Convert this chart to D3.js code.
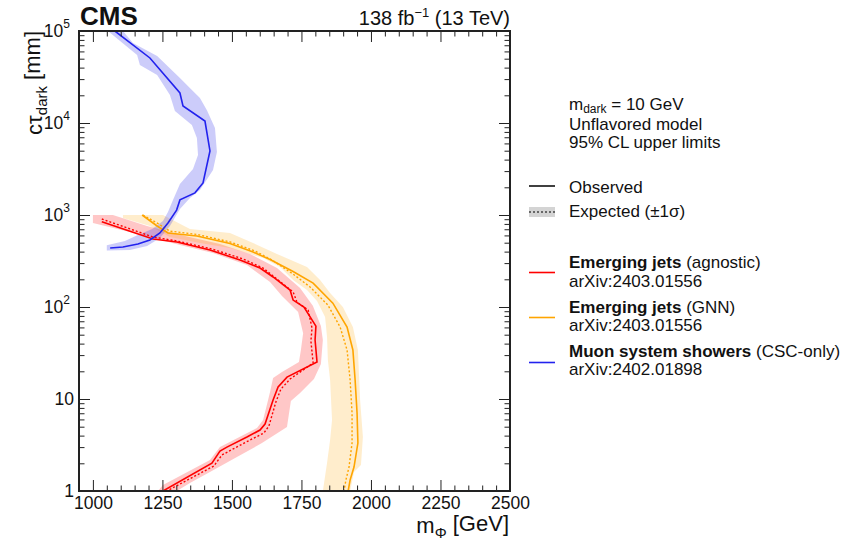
<!DOCTYPE html>
<html><head><meta charset="utf-8">
<script src="https://cdn.jsdelivr.net/npm/d3@7"></script>
<style>
body{margin:0;background:#fff;}
svg{display:block;font-family:"Liberation Sans",Arial,Helvetica,sans-serif;}
</style></head><body>
<svg id="chart" width="866" height="540"></svg>
<script>
// Limit contours in the (m_Phi [GeV], c tau_dark [mm]) plane: [mass, ctau]
const ejAgnosticObs = [[1032,846],[1216,548],[1302,509],[1421,417],[1529,324],[1601,265],[1648,212],[1709,153],[1720,119],[1759,100],[1802,62],[1799,43.8],[1806,25.3],[1698,17.3],[1666,13.5],[1648,9.76],[1619,5.35],[1601,4.6],[1554,3.86],[1482,3.0],[1457,2.72],[1428,2.01],[1252,1]];
const ejAgnosticExp = [[1032,905],[1216,577],[1302,522],[1428,427],[1540,333],[1612,265],[1662,201],[1720,146],[1734,113],[1774,92.8],[1788,59],[1784,42.7],[1792,24.6],[1709,16.5],[1676,12.8],[1658,9.28],[1633,5.09],[1615,4.27],[1565,3.58],[1497,2.79],[1464,2.46],[1435,1.87],[1266,1]];
const ejAgnosticBandHi = [[1000,1000],[1072,1000],[1195,759],[1331,591],[1457,484],[1565,377],[1662,265],[1745,161],[1791,103],[1820,62],[1827,43.8],[1820,24],[1795,16.5],[1745,11.6],[1712,9.5],[1698,4.96],[1608,3.32],[1518,2.34],[1421,1.61],[1349,1.22],[1302,1],[1259,0.84]];
const ejAgnosticBandLo = [[1000,819],[1133,653],[1313,472],[1432,386],[1554,286],[1637,187],[1680,132],[1738,88],[1756,52],[1748,34],[1741,25.3],[1680,19.7],[1648,16.9],[1637,11.9],[1630,9.76],[1612,5.9],[1590,4.84],[1457,3.0],[1421,2.17],[1252,1.16],[1234,1],[1198,0.88]];

const ejGnnObs = [[1177,1000],[1231,759],[1270,637],[1374,591],[1493,490],[1576,396],[1637,328],[1720,243],[1792,182],[1863,110],[1914,60.6],[1935,34.1],[1943,16.1],[1950,7.04],[1953,3.32],[1939,1.82],[1925,1.32],[1918,1]];
const ejGnnExp = [[1180,1000],[1236,800],[1277,668],[1374,615],[1493,510],[1583,406],[1644,324],[1720,228],[1781,165],[1845,105],[1889,60.6],[1914,34.1],[1925,16.1],[1932,7.04],[1932,3.32],[1921,1.82],[1910,1.32],[1903,1]];
const ejGnnBandHi = [[1108,1000],[1252,1000],[1349,704],[1493,637],[1576,496],[1662,377],[1770,272],[1817,196],[1853,142],[1899,100],[1935,60.6],[1953,34.1],[1961,9.76],[1971,3.86],[1964,1.92],[1939,1.61],[1925,1],[1917,0.84]];
const ejGnnBandLo = [[1108,927],[1205,759],[1277,577],[1385,496],[1493,438],[1612,341],[1673,272],[1720,196],[1770,153],[1806,116],[1835,77.9],[1842,47.2],[1845,26.5],[1853,16.1],[1860,5.91],[1853,3.58],[1842,2.01],[1827,1],[1824,0.84]];

const mssObs = [[1062,438],[1108,449],[1162,484],[1205,535],[1241,637],[1270,819],[1301,1130],[1313,1460],[1367,1740],[1396,2230],[1421,4970],[1403,10500],[1324,15300],[1313,21200],[1205,50900],[1079,100000]];
const mssBandHi = [[1050,410],[1133,417],[1195,460],[1241,562],[1277,759],[1313,1160],[1349,1530],[1385,1870],[1432,3080],[1446,4840],[1439,8830],[1410,13800],[1385,18700],[1338,25900],[1313,30800],[1231,53500],[1144,74100],[1108,100000],[1090,113000]];
const mssBandLo = [[1050,470],[1115,522],[1162,606],[1213,704],[1252,861],[1270,1080],[1288,1460],[1313,2170],[1360,3160],[1378,4490],[1374,6870],[1356,9510],[1295,13500],[1277,20200],[1231,33300],[1169,42700],[1159,54800],[1054,100000],[1040,113000]];

// Axis ticks
const xMajorTicks = [1000,1250,1500,1750,2000,2250,2500];
const yMajorTicks = [1,10,100,1000,10000,100000];
const yTickLabels = [["1",""],["10",""],["10","2"],["10","3"],["10","4"],["10","5"]];

const svg = d3.select("#chart");
const plot = {left:79, right:510, top:31, bottom:491};
const x = d3.scaleLinear().domain([950,2500]).range([plot.left, plot.right]);
const y = d3.scaleLog().domain([1,1e5]).range([plot.bottom, plot.top]);

svg.append("defs").append("clipPath").attr("id","plotclip")
  .append("rect").attr("x",plot.left).attr("y",plot.top)
  .attr("width",plot.right-plot.left).attr("height",plot.bottom-plot.top);

const series = [
  {obs:ejAgnosticObs, exp:ejAgnosticExp, hi:ejAgnosticBandHi, lo:ejAgnosticBandLo, line:"#ff0000", band:"rgba(255,0,0,0.22)"},
  {obs:ejGnnObs, exp:ejGnnExp, hi:ejGnnBandHi, lo:ejGnnBandLo, line:"#ffa500", band:"rgba(255,165,0,0.2)"},
  {obs:mssObs, exp:null, hi:mssBandHi, lo:mssBandLo, line:"#2222ee", band:"rgba(40,40,235,0.24)"}
];

const line = d3.line().x(d=>x(d[0])).y(d=>y(d[1]));
const g = svg.append("g").attr("clip-path","url(#plotclip)");

// ±1σ bands: upper edge followed by the reversed lower edge
series.forEach(s=>{
  const poly = s.hi.concat(s.lo.slice().reverse());
  g.append("path").attr("d", line(poly)+"Z").attr("fill", s.band).attr("stroke","none");
});
series.forEach(s=>{
  if (s.exp) g.append("path").attr("d", line(s.exp)).attr("fill","none")
      .attr("stroke", s.line).attr("stroke-width",1.4).attr("stroke-dasharray","2,2");
  g.append("path").attr("d", line(s.obs)).attr("fill","none")
      .attr("stroke", s.line).attr("stroke-width",1.6);
});

// Axes: ticks pointing inward on all four sides
const xMinor = d3.range(1000,2500,50).filter(v=>v%250!==0);
const yMinor = [];
for (let e=0;e<5;e++) for (let k=2;k<10;k++) yMinor.push(k*Math.pow(10,e));

function styleAxis(sel){
  sel.select(".domain").remove();
  sel.selectAll(".tick line").attr("stroke","#222").attr("stroke-width",1);
}
const bottomG = svg.append("g").attr("transform",`translate(0,${plot.bottom})`)
  .call(d3.axisBottom(x).tickValues(xMajorTicks).tickSize(-11).tickPadding(6).tickFormat(d3.format("d")));
styleAxis(bottomG);
bottomG.selectAll("text").attr("font-size",17.5).attr("fill","#111").attr("font-family","Liberation Sans, Arial, sans-serif");
svg.append("g").attr("transform",`translate(0,${plot.bottom})`)
  .call(d3.axisBottom(x).tickValues(xMinor).tickSize(-5.5).tickFormat("")).call(styleAxis);
svg.append("g").attr("transform",`translate(0,${plot.top})`)
  .call(d3.axisTop(x).tickValues(xMajorTicks).tickSize(-11).tickFormat("")).call(styleAxis);
svg.append("g").attr("transform",`translate(0,${plot.top})`)
  .call(d3.axisTop(x).tickValues(xMinor).tickSize(-5.5).tickFormat("")).call(styleAxis);
svg.append("g").attr("transform",`translate(${plot.left},0)`)
  .call(d3.axisLeft(y).tickValues(yMajorTicks).tickSize(-11).tickFormat("")).call(styleAxis);
svg.append("g").attr("transform",`translate(${plot.left},0)`)
  .call(d3.axisLeft(y).tickValues(yMinor).tickSize(-5.5).tickFormat("")).call(styleAxis);
svg.append("g").attr("transform",`translate(${plot.right},0)`)
  .call(d3.axisRight(y).tickValues(yMajorTicks).tickSize(-11).tickFormat("")).call(styleAxis);
svg.append("g").attr("transform",`translate(${plot.right},0)`)
  .call(d3.axisRight(y).tickValues(yMinor).tickSize(-5.5).tickFormat("")).call(styleAxis);

// y tick labels with exponents
yMajorTicks.forEach((v,i)=>{
  const [base, expo] = yTickLabels[i];
  const t = svg.append("text").attr("x", expo ? 70 : 74).attr("y", y(v)).attr("dy","0.36em")
    .attr("text-anchor","end").attr("font-size",17.5).attr("fill","#111");
  t.append("tspan").text(base);
  if (expo) t.append("tspan").attr("font-size",12).attr("dy","-0.75em").text(expo);
});

// Frame
svg.append("rect").attr("x",plot.left).attr("y",plot.top)
  .attr("width",plot.right-plot.left).attr("height",plot.bottom-plot.top)
  .attr("fill","none").attr("stroke","#222").attr("stroke-width",2);

// Header texts
svg.append("text").attr("x",80).attr("y",25).attr("font-size",26).attr("font-weight","bold").attr("fill","#111").text("CMS");
const lumi = svg.append("text").attr("x",510).attr("y",25).attr("text-anchor","end").attr("font-size",20).attr("fill","#111");
lumi.append("tspan").text("138 fb");
lumi.append("tspan").attr("font-size",13).attr("dy","-0.6em").text("\u22121");
lumi.append("tspan").attr("dy","0.4em").attr("font-size",20).text(" (13 TeV)");

// Axis titles
const xt = svg.append("text").attr("x",509).attr("y",533).attr("text-anchor","end").attr("font-size",22).attr("fill","#111");
xt.append("tspan").text("m");
xt.append("tspan").attr("font-size",15).attr("dy","0.3em").text("\u03A6");
xt.append("tspan").attr("dy","-0.3em").attr("font-size",22).text(" [GeV]");

const yt = svg.append("text").attr("transform",`translate(42,${plot.top}) rotate(-90)`).attr("text-anchor","end").attr("font-size",22).attr("fill","#111");
yt.append("tspan").text("c\u03C4");
yt.append("tspan").attr("font-size",15).attr("dy","0.3em").text("dark");
yt.append("tspan").attr("dy","-0.3em").attr("font-size",22).text(" [mm]");

// Legend
const lx = 569, fs = 17;
const hdr = svg.append("text").attr("x",lx).attr("y",110).attr("font-size",fs).attr("fill","#111");
hdr.append("tspan").text("m");
hdr.append("tspan").attr("font-size",12).attr("dy","3").text("dark");
hdr.append("tspan").attr("dy","-3").attr("font-size",fs).text(" = 10 GeV");
svg.append("text").attr("x",lx).attr("y",129.5).attr("font-size",fs).attr("fill","#111").text("Unflavored model");
svg.append("text").attr("x",lx).attr("y",147.5).attr("font-size",fs).attr("fill","#111").text("95% CL upper limits");

svg.append("line").attr("x1",529).attr("x2",555).attr("y1",186).attr("y2",186).attr("stroke","#111").attr("stroke-width",1.6);
svg.append("text").attr("x",lx).attr("y",192.5).attr("font-size",fs).attr("fill","#111").text("Observed");
svg.append("rect").attr("x",529).attr("y",207).attr("width",26).attr("height",10).attr("fill","#d4d4d4");
svg.append("line").attr("x1",529).attr("x2",555).attr("y1",212).attr("y2",212).attr("stroke","#444").attr("stroke-width",1.4).attr("stroke-dasharray","2,2");
svg.append("text").attr("x",lx).attr("y",216.5).attr("font-size",fs).attr("fill","#111").text("Expected (\u00B11\u03C3)");

const legendEntries = [
  {bold:"Emerging jets", rest:" (agnostic)", ref:"arXiv:2403.01556", color:"#ff0000", ly:272.5, ty:268},
  {bold:"Emerging jets", rest:" (GNN)", ref:"arXiv:2403.01556", color:"#ffa500", ly:317.5, ty:312.5},
  {bold:"Muon system showers", rest:" (CSC-only)", ref:"arXiv:2402.01898", color:"#2222ee", ly:362.5, ty:356.5}
];
legendEntries.forEach(e=>{
  svg.append("line").attr("x1",529).attr("x2",555).attr("y1",e.ly).attr("y2",e.ly).attr("stroke",e.color).attr("stroke-width",1.6);
  const t = svg.append("text").attr("x",lx).attr("y",e.ty).attr("font-size",fs).attr("fill","#111");
  t.append("tspan").attr("font-weight","bold").text(e.bold);
  t.append("tspan").text(e.rest);
  svg.append("text").attr("x",lx).attr("y",e.ty+18.5).attr("font-size",fs).attr("fill","#111").text(e.ref);
});
</script>
</body></html>
